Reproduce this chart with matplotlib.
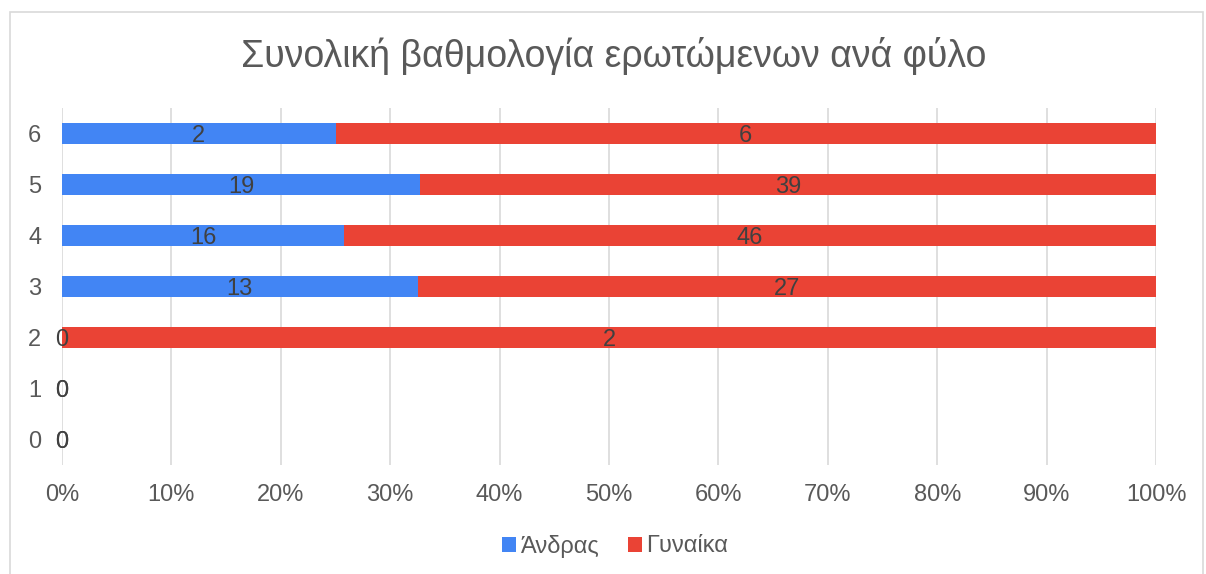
import numpy as np
import matplotlib.pyplot as plt
from matplotlib.patches import Rectangle

categories = ["0", "1", "2", "3", "4", "5", "6"]
men = [0, 0, 0, 13, 16, 19, 2]
women = [0, 0, 2, 27, 46, 39, 6]
series_names = ["Άνδρας", "Γυναίκα"]
xticks = [0, 10, 20, 30, 40, 50, 60, 70, 80, 90, 100]

BLUE = "#4285F4"
RED = "#EA4335"
TXT = "#595959"
LBL = "#404040"

plt.rcParams["font.family"] = ["Liberation Sans", "DejaVu Sans"]

men_a = np.array(men, dtype=float)
women_a = np.array(women, dtype=float)
total = men_a + women_a
safe = np.where(total == 0, 1, total)
men_p = men_a / safe * 100
women_p = women_a / safe * 100
y = np.arange(len(categories))

fig = plt.figure(figsize=(12.06, 5.74), dpi=100)
fig.patches.append(Rectangle((10 / 1206, -0.01), 1193 / 1206, 1 - 12 / 574 + 0.01,
                             transform=fig.transFigure, fill=False,
                             edgecolor="#D9D9D9", linewidth=1.2))
ax = fig.add_axes([62 / 1206, 1 - 465 / 574, (1156 - 62) / 1206, (465 - 108) / 574])

ax.barh(y, men_p, height=0.4, color=BLUE, label=series_names[0], zorder=2)
ax.barh(y, women_p, left=men_p, height=0.4, color=RED, label=series_names[1], zorder=2)

for i in range(len(categories)):
    if men_a[i] > 0:
        ax.text(men_p[i] / 2, y[i], f"{men[i]}", ha="center", va="center_baseline",
                fontsize=17, color=LBL, zorder=3)
    else:
        ax.text(0, y[i], "0", ha="center", va="center_baseline", fontsize=17, color=LBL, zorder=3)
    if women_a[i] > 0:
        ax.text(men_p[i] + women_p[i] / 2, y[i], f"{women[i]}", ha="center",
                va="center_baseline", fontsize=17, color=LBL, zorder=3)
    else:
        ax.text(0, y[i], "0", ha="center", va="center_baseline", fontsize=17, color=LBL, zorder=3)

ax.set_xlim(0, 100)
ax.set_ylim(-0.5, 6.5)
ax.set_xticks(xticks)
ax.set_xticklabels([f"{t}%" for t in xticks])
ax.set_yticks(y)
ax.set_yticklabels(categories)
ax.tick_params(axis="both", length=0, labelsize=17, labelcolor=TXT)
ax.tick_params(axis="x", pad=14)
ax.tick_params(axis="y", pad=15)
ax.grid(axis="x", color="#D9D9D9", linewidth=1.2, zorder=0)
for s in ax.spines.values():
    s.set_visible(False)

fig.text(614 / 1206, 1 - 56 / 574, "Συνολική βαθμολογία ερωτώμενων ανά φύλο",
         ha="center", va="center", fontsize=27, color=TXT)

fig.legend(loc="center", bbox_to_anchor=(615 / 1206, 1 - 546 / 574), ncol=2, frameon=False,
           fontsize=17, labelcolor=TXT, handlelength=0.6, handleheight=0.6,
           handletextpad=0.2, columnspacing=1.2)

fig.savefig("out.png", dpi=100)
